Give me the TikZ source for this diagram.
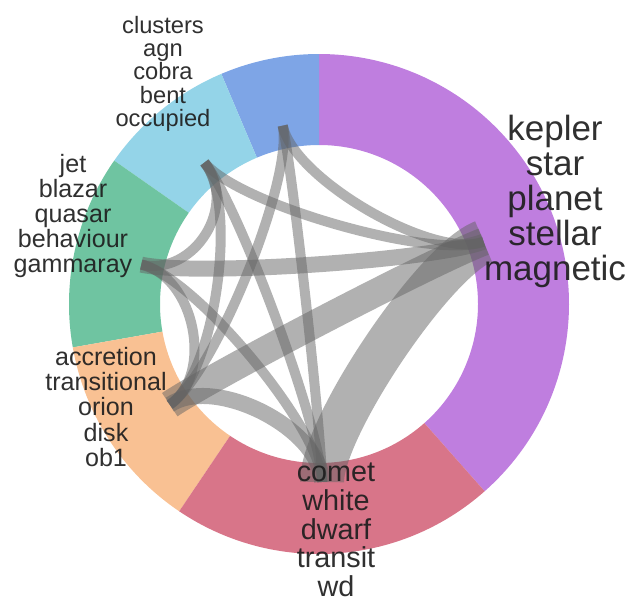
\documentclass[tikz,border=0pt]{standalone}
\usepackage{fontspec}
\setmainfont{Liberation Sans}
\usetikzlibrary{calc}
\definecolor{cpurple}{RGB}{191,126,223}
\definecolor{cblue}{RGB}{126,165,230}
\definecolor{clight}{RGB}{148,212,232}
\definecolor{cgreen}{RGB}{111,196,161}
\definecolor{corange}{RGB}{249,193,147}
\definecolor{cred}{RGB}{216,117,137}
\definecolor{chordgray}{RGB}{100,100,100}
\definecolor{txt}{RGB}{30,30,30}
\begin{document}
\begin{tikzpicture}[x=1pt,y=1pt,
  chord/.style={draw=chordgray, draw opacity=0.5, line cap=butt},
  lbl/.style={anchor=base, inner sep=0pt, text=txt, text opacity=0.92},
]
\useasboundingbox (0,0) rectangle (636,-603);
\coordinate (ctr) at (319,-304);

% ring segments
\foreach \a/\b/\c in {-48.5/90/cpurple, 90/113/cblue, 113/145/clight, 145/190/cgreen, 190/236/corange, 236/311.5/cred}
  \fill[\c, shift={(ctr)}] (\a:250) arc[start angle=\a, end angle=\b, radius=250]
     -- (\b:159) arc[start angle=\b, end angle=\a, radius=159] -- cycle;

% node points
\coordinate (nP) at ($(ctr)+(20.75:176)$);
\coordinate (nB) at ($(ctr)+(101.5:182)$);
\coordinate (nL) at ($(ctr)+(129:182)$);
\coordinate (nG) at ($(ctr)+(167.5:182)$);
\coordinate (nO) at ($(ctr)+(214:180)$);
\coordinate (nR) at ($(ctr)+(271:178)$);

% chords
\foreach \s/\t/\w in {B/P/10, B/O/10, B/R/10, L/G/10, L/O/10, L/R/10, L/P/10,
                      G/P/16, G/R/10, G/O/10, O/P/28, O/R/16, R/P/44}
  \draw[chord, line width=\w] (n\s) .. controls ($(n\s)!0.3!(ctr)$) and ($(n\t)!0.3!(ctr)$) .. (n\t);

% labels
\foreach \t [count=\i] in {kepler,star,planet,stellar,magnetic}
  \node[lbl, font=\fontsize{35}{35}\selectfont] (lp\i) at (555,{-140-35.2*(\i-1)}) {\t};
\foreach \t [count=\i] in {comet,white,dwarf,transit,wd}
  \node[lbl, font=\fontsize{28.8}{28.8}\selectfont] (lr\i) at (336,{-481.7-28.75*(\i-1)}) {\t};
\foreach \t [count=\i] in {accretion,transitional,orion,disk,ob1}
  \node[lbl, font=\fontsize{25.1}{25.1}\selectfont] (lo\i) at (106,{-365-25.4*(\i-1)}) {\t};
\foreach \t [count=\i] in {jet,blazar,quasar,behaviour,gammaray}
  \node[lbl, font=\fontsize{25.1}{25.1}\selectfont] (lg\i) at (73,{-172-25*(\i-1)}) {\t};
\foreach \t [count=\i] in {clusters,agn,cobra,bent,occupied}
  \node[lbl, font=\fontsize{23.7}{23.7}\selectfont] (ll\i) at (163,{-33.2-23.35*(\i-1)}) {\t};
\end{tikzpicture}
\end{document}
